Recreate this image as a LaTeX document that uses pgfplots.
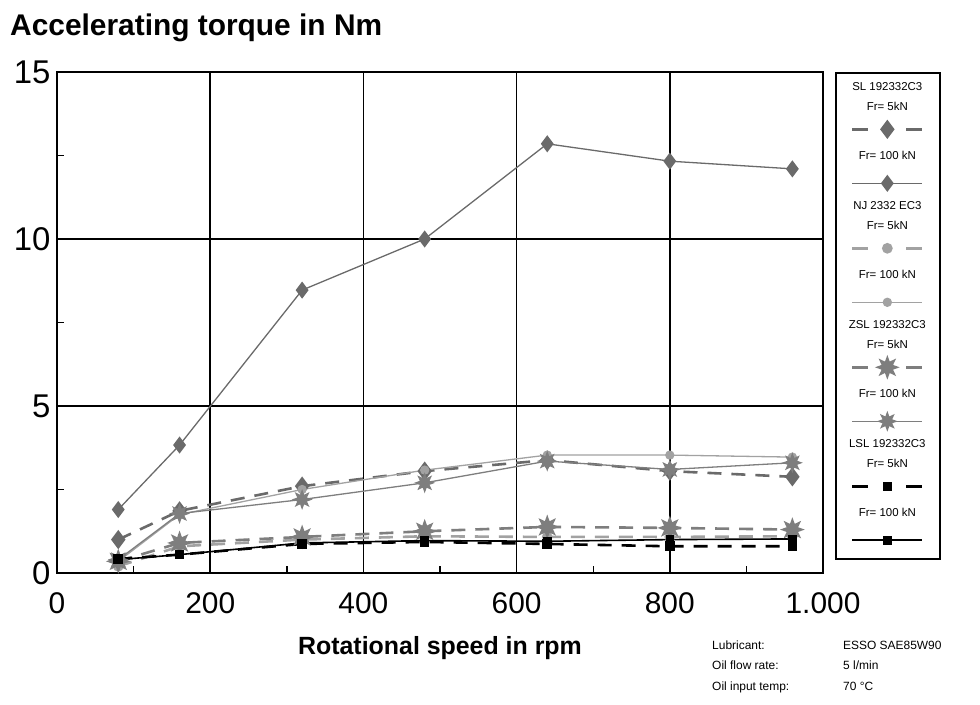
\documentclass[border=0pt]{standalone}
\usepackage{pgfplots}
\pgfplotsset{compat=1.18}
\usepackage{fontspec}
\setmainfont{Liberation Sans}

\definecolor{slgray}{HTML}{6A6A6A}
\definecolor{njgray}{HTML}{A2A2A2}
\definecolor{zslgray}{HTML}{7E7E7E}

\pgfdeclareplotmark{fstar}{%
  \pgfpathmoveto{\pgfqpointpolar{90}{\pgfplotmarksize}}%
  \pgfpathlineto{\pgfqpointpolar{112.5}{0.5\pgfplotmarksize}}%
  \pgfpathlineto{\pgfqpointpolar{135}{\pgfplotmarksize}}%
  \pgfpathlineto{\pgfqpointpolar{157.5}{0.5\pgfplotmarksize}}%
  \pgfpathlineto{\pgfqpointpolar{180}{\pgfplotmarksize}}%
  \pgfpathlineto{\pgfqpointpolar{202.5}{0.5\pgfplotmarksize}}%
  \pgfpathlineto{\pgfqpointpolar{225}{\pgfplotmarksize}}%
  \pgfpathlineto{\pgfqpointpolar{247.5}{0.5\pgfplotmarksize}}%
  \pgfpathlineto{\pgfqpointpolar{270}{\pgfplotmarksize}}%
  \pgfpathlineto{\pgfqpointpolar{292.5}{0.5\pgfplotmarksize}}%
  \pgfpathlineto{\pgfqpointpolar{315}{\pgfplotmarksize}}%
  \pgfpathlineto{\pgfqpointpolar{337.5}{0.5\pgfplotmarksize}}%
  \pgfpathlineto{\pgfqpointpolar{0}{\pgfplotmarksize}}%
  \pgfpathlineto{\pgfqpointpolar{22.5}{0.5\pgfplotmarksize}}%
  \pgfpathlineto{\pgfqpointpolar{45}{\pgfplotmarksize}}%
  \pgfpathlineto{\pgfqpointpolar{67.5}{0.5\pgfplotmarksize}}%
  \pgfpathclose
  \pgfusepathqfillstroke
}

\pgfplotsset{
  solidleg/.style={legend image code/.code={
    \path[draw=none, fill=none] (0bp,-13.5bp) rectangle (70bp,13.5bp);
    \draw[mark repeat=2,mark phase=2,##1] plot coordinates {(0bp,0bp) (35bp,0bp) (70bp,0bp)};}},
  dashleg/.style={legend image code/.code={
    \path[draw=none, fill=none] (0bp,-13.5bp) rectangle (70bp,13.5bp);
    \draw[mark repeat=2,mark phase=2,##1,dash pattern=on 16bp off 38bp] plot coordinates {(0bp,0bp) (35bp,0bp) (70bp,0bp)};}},
  headleg/.style={legend image code/.code={
    \path[draw=none, fill=none] (0bp,-19bp) rectangle (70bp,19bp);
    \node[draw=none, fill=none, font=\fontsize{11.5}{20}\selectfont, align=center, inner sep=0pt, text=black] at (35bp,0bp) {#1};}},
  subleg/.style={legend image code/.code={
    \path[draw=none, fill=none] (0bp,-13.5bp) rectangle (70bp,13.5bp);
    \node[draw=none, fill=none, font=\fontsize{11.5}{13}\selectfont, align=center, inner sep=0pt, text=black] at (35bp,0bp) {#1};}},
}

\begin{document}
\begin{tikzpicture}
\path[use as bounding box] (-57bp,-132bp) rectangle (923bp,573bp);
\begin{axis}[
  name=ax,
  scale only axis,
  width=766bp, height=501bp,
  xmin=0, xmax=1000, ymin=0, ymax=15,
  xtick={0,200,...,1000},
  ytick={0,5,10,15},
  minor xtick={100,300,500,700,900},
  minor ytick={2.5,7.5,12.5},
  tick pos=left,
  tick align=inside,
  major tick length=0pt,
  minor tick length=7bp,
  minor tick style={black, line width=1.4bp},
  grid=major,
  major grid style={black, line width=1.6bp},
  axis line style={black, line width=2.4bp},
  /pgf/number format/assume math mode=true,
  /pgf/number format/1000 sep={.},
  xticklabel style={font=\fontsize{30}{34}\selectfont, yshift=-16bp},
  yticklabel style={font=\fontsize{33}{36}\selectfont, xshift=-3bp},
  xlabel={Rotational speed in rpm},
  xlabel style={font=\bfseries\fontsize{25}{30}\selectfont, at={(axis description cs:0.5,-0.15)}, anchor=center},
  legend style={at={(rel axis cs:1,1)}, anchor=north west, xshift=12bp,
    draw=black, line width=1.6bp, inner xsep=13bp, inner ysep=5bp,
    row sep=0pt, column sep=0pt, nodes={inner sep=0pt}},
  legend cell align=center,
]
% SL 192332C3
\addlegendimage{headleg={SL 192332C3\\Fr= 5kN}}\addlegendentry{}
\addplot[slgray, line width=2.6bp, dash pattern=on 14bp off 10bp, mark=diamond*, mark size=7.5bp, mark options={solid, fill=slgray}, dashleg]
  coordinates {(80,1.0) (160,1.86) (320,2.6) (480,3.05) (640,3.38) (800,3.05) (960,2.88)};
\addlegendentry{}
\addlegendimage{subleg={Fr= 100 kN}}\addlegendentry{}
\addplot[slgray, line width=1.3bp, mark=diamond*, mark size=7.5bp, mark options={solid, fill=slgray}, solidleg]
  coordinates {(80,1.9) (160,3.83) (320,8.47) (480,10.0) (640,12.85) (800,12.33) (960,12.1)};
\addlegendentry{}
% NJ 2332 EC3
\addlegendimage{headleg={NJ 2332 EC3\\Fr= 5kN}}\addlegendentry{}
\addplot[njgray, line width=2.6bp, dash pattern=on 14bp off 10bp, mark=*, mark size=4bp, mark options={solid, fill=njgray}, dashleg]
  coordinates {(80,0.2) (160,0.8) (320,1.0) (480,1.1) (640,1.08) (800,1.08) (960,1.1)};
\addlegendentry{}
\addlegendimage{subleg={Fr= 100 kN}}\addlegendentry{}
\addplot[njgray, line width=1.3bp, mark=*, mark size=4bp, mark options={solid, fill=njgray}, solidleg]
  coordinates {(80,0.35) (160,1.75) (320,2.5) (480,3.08) (640,3.53) (800,3.53) (960,3.47)};
\addlegendentry{}
% ZSL 192332C3
\addlegendimage{headleg={ZSL 192332C3\\Fr= 5kN}}\addlegendentry{}
\addplot[zslgray, line width=2.6bp, dash pattern=on 14bp off 10bp, mark=fstar, mark size=8.5bp, mark options={solid, fill=zslgray}, dashleg]
  coordinates {(80,0.35) (160,0.9) (320,1.08) (480,1.25) (640,1.38) (800,1.35) (960,1.3)};
\addlegendentry{}
\addlegendimage{subleg={Fr= 100 kN}}\addlegendentry{}
\addplot[zslgray, line width=1.3bp, mark=fstar, mark size=8.5bp, mark options={solid, fill=zslgray}, solidleg]
  coordinates {(80,0.4) (160,1.78) (320,2.2) (480,2.7) (640,3.35) (800,3.1) (960,3.3)};
\addlegendentry{}
% LSL 192332C3
\addlegendimage{headleg={LSL 192332C3\\Fr= 5kN}}\addlegendentry{}
\addplot[black, line width=2.6bp, dash pattern=on 14bp off 10bp, mark=square*, mark size=3.5bp, mark options={solid, fill=black}, dashleg]
  coordinates {(80,0.42) (160,0.55) (320,0.87) (480,0.93) (640,0.87) (800,0.8) (960,0.8)};
\addlegendentry{}
\addlegendimage{subleg={Fr= 100 kN}}\addlegendentry{}
\addplot[black, line width=1.6bp, mark=square*, mark size=3.5bp, mark options={solid, fill=black}, solidleg]
  coordinates {(80,0.4) (160,0.55) (320,0.9) (480,0.97) (640,0.95) (800,1.0) (960,1.02)};
\addlegendentry{}
\end{axis}
\node[anchor=base west, font=\bfseries\fontsize{30}{34}\selectfont, inner sep=0pt] at (-47bp,537bp) {Accelerating torque in Nm};
\begin{scope}[every node/.style={anchor=base west, font=\fontsize{12}{14}\selectfont, inner sep=0pt}]
\node at (655bp,-76bp) {Lubricant:};
\node at (786bp,-76bp) {ESSO SAE85W90};
\node at (655bp,-96bp) {Oil flow rate:};
\node at (786bp,-96bp) {5 l/min};
\node at (655bp,-117bp) {Oil input temp:};
\node at (786bp,-117bp) {70 °C};
\end{scope}
\end{tikzpicture}
\end{document}
